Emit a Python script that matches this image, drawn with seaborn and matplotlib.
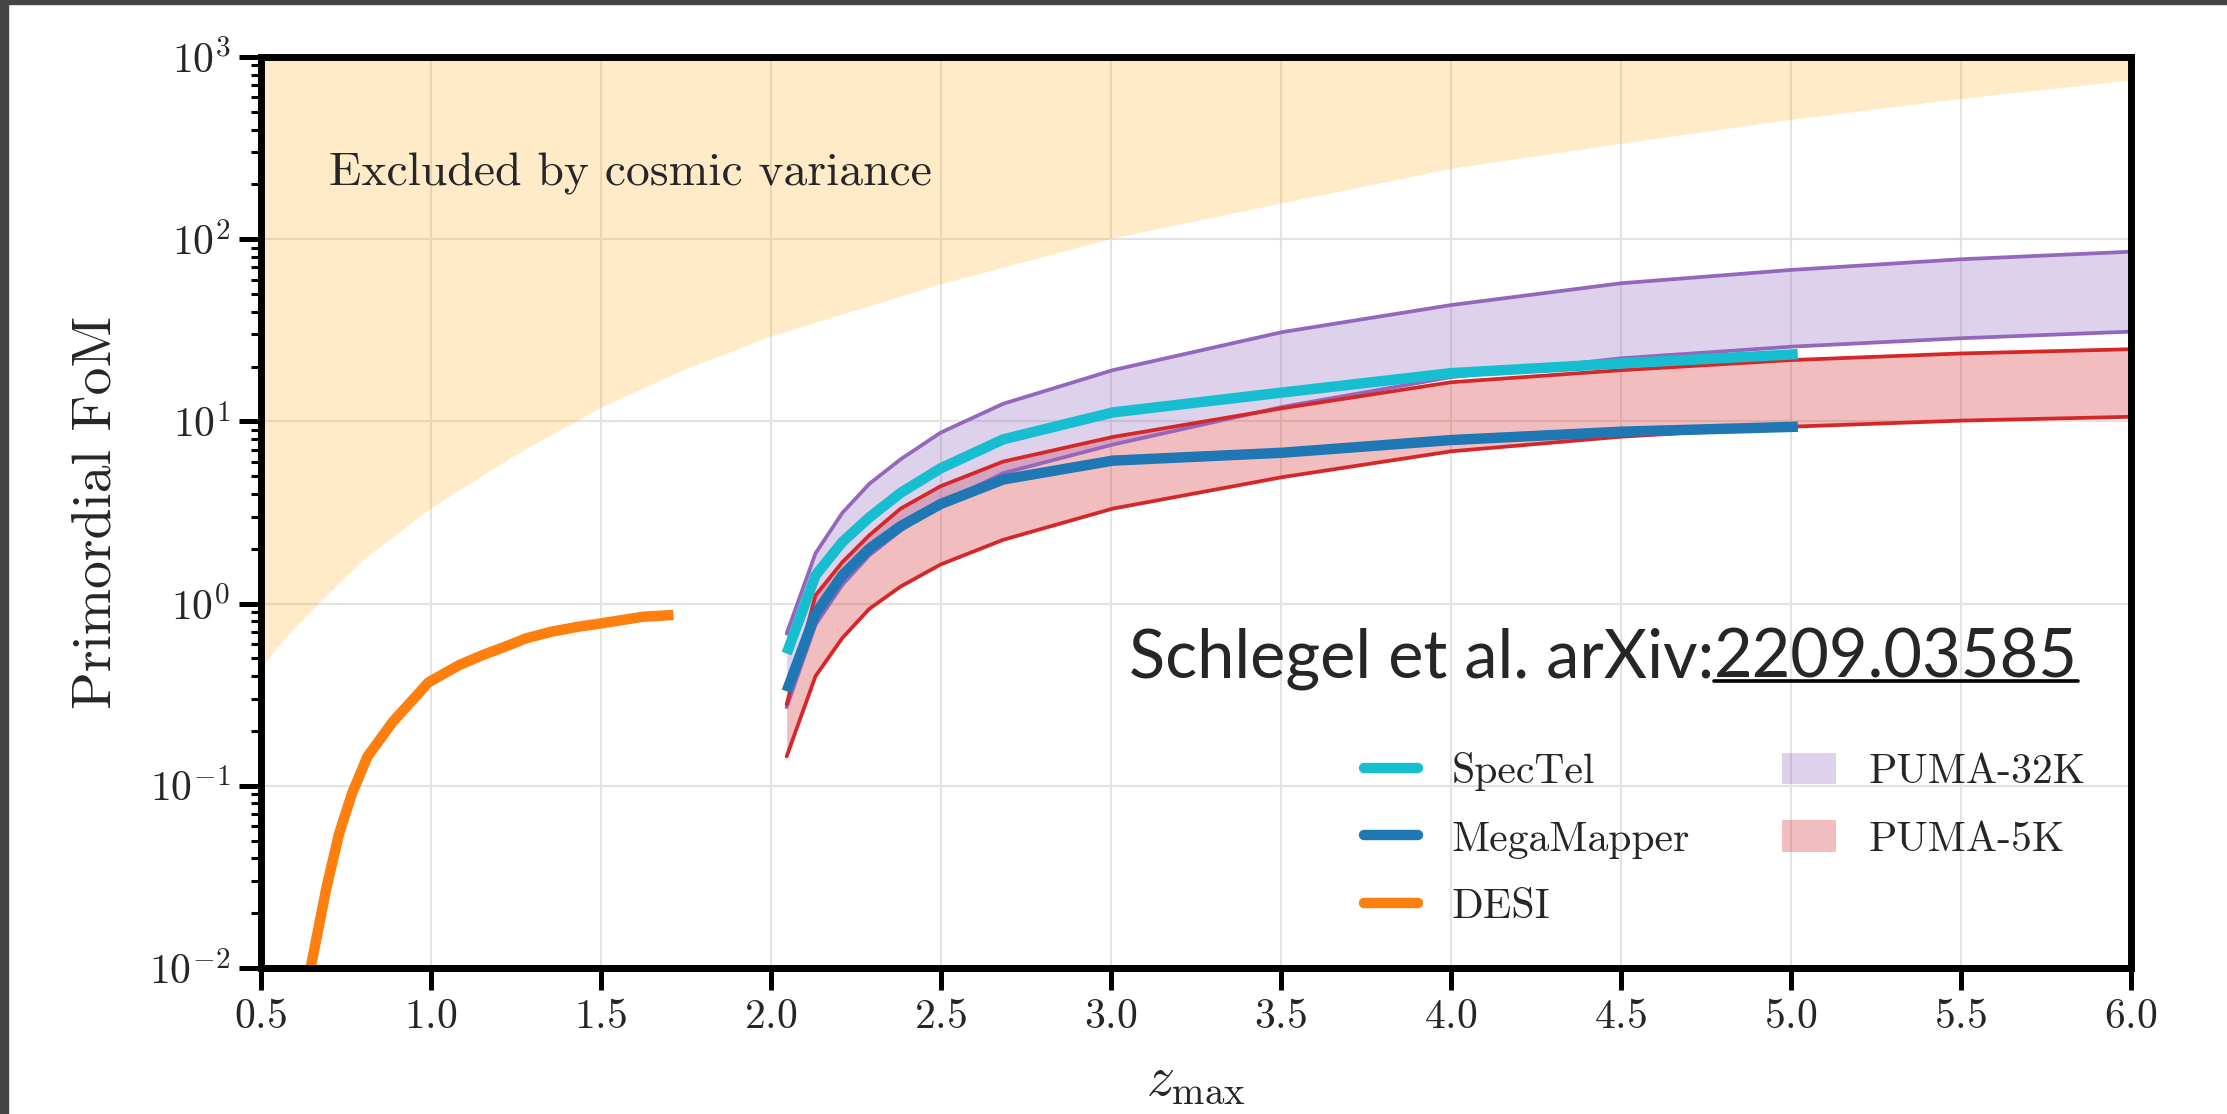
import numpy as np
import pandas as pd
import matplotlib
matplotlib.use("Agg")
import matplotlib.pyplot as plt
import seaborn as sns
from matplotlib.ticker import FixedLocator, FuncFormatter, LogLocator, NullFormatter
from matplotlib.patches import Rectangle
from matplotlib.lines import Line2D

# ---------------- data ----------------
z_cv = [0.5, 0.58, 0.67, 0.8, 1.0, 1.25, 1.5, 1.75, 2.0, 2.25, 2.5, 3.0, 3.5, 4.0, 4.5, 5.0, 5.5, 6.0]
fom_cv = [0.45, 0.68, 1.01, 1.75, 3.36, 6.6, 12.0, 19.5, 29.5, 41.0, 57.0, 101.0, 158.0, 245.0,
          336.0, 455.0, 593.0, 748.0]

z_desi = [0.645, 0.693, 0.730, 0.768, 0.813, 0.888, 0.993, 1.083, 1.15, 1.218, 1.28, 1.353,
          1.43, 1.503, 1.623, 1.713]
fom_desi = [0.0098, 0.0279, 0.0548, 0.091, 0.1445, 0.225, 0.37, 0.46, 0.52, 0.58, 0.645, 0.70,
            0.745, 0.78, 0.847, 0.866]

z_puma = [2.046, 2.131, 2.210, 2.289, 2.381, 2.499, 2.683, 3.005, 3.503, 4.0, 4.5, 5.0, 5.5, 6.0]
puma32k_hi = [0.685, 1.89, 3.15, 4.54, 6.19, 8.68, 12.5, 19.1, 30.9, 43.5, 57.3, 67.8, 77.6, 85.4]
puma32k_lo = [0.270, 0.767, 1.27, 1.84, 2.51, 3.52, 5.2, 7.46, 12.0, 17.5, 22.2, 25.7, 28.6, 31.1]
puma5k_hi = [0.28, 1.11, 1.69, 2.37, 3.32, 4.41, 6.02, 8.21, 11.8, 16.4, 19.1, 21.7, 23.6, 24.9]
puma5k_lo = [0.145, 0.40, 0.648, 0.935, 1.24, 1.64, 2.24, 3.32, 4.94, 6.85, 8.24, 9.35, 10.1, 10.6]

z_surv = [2.046, 2.131, 2.210, 2.289, 2.381, 2.499, 2.683, 3.005, 3.503, 4.0, 4.5, 5.02]
fom_spectel = [0.532, 1.43, 2.18, 2.97, 4.05, 5.53, 7.97, 11.2, 14.4, 18.4, 20.8, 23.4]
fom_megamapper = [0.33, 0.88, 1.43, 2.0, 2.66, 3.52, 4.80, 6.09, 6.73, 7.9, 8.78, 9.35]

x_ticks = [0.5, 1.0, 1.5, 2.0, 2.5, 3.0, 3.5, 4.0, 4.5, 5.0, 5.5, 6.0]
y_ticks = [1e-2, 1e-1, 1e0, 1e1, 1e2, 1e3]

labels = ["SpecTel", "MegaMapper", "DESI", "PUMA-32K", "PUMA-5K"]

# ---------------- style ----------------
sns.set_style("ticks")
plt.rcParams["font.family"] = ["cmr10", "DejaVu Serif"]
plt.rcParams["mathtext.fontset"] = "cm"
plt.rcParams["axes.formatter.use_mathtext"] = True

C_CYAN, C_BLUE, C_ORANGE = "#17becf", "#1f77b4", "#ff7f0e"
C_PURPLE, C_RED = "#9467bd", "#d62728"

W, H, DPI = 2227, 1114, 100
fig = plt.figure(figsize=(W / DPI, H / DPI), dpi=DPI)
fig.patch.set_facecolor("white")
L, R, T, B = 261, 2131, 57, 968
ax = fig.add_axes([L / W, 1 - B / H, (R - L) / W, (B - T) / H])

# dark frame strips at the left and top of the screenshot
fig.patches.append(Rectangle((0, 0), 8 / W, 1, transform=fig.transFigure,
                             color="#444444", zorder=-1))
fig.patches.append(Rectangle((0, 1 - 4 / H), 1, 4 / H, transform=fig.transFigure,
                             color="#444444", zorder=-1))

ax.set_yscale("log")
ax.set_xlim(0.5, 6.0)
ax.set_ylim(1e-2, 1e3)

# cosmic variance excluded region
ax.fill_between(z_cv, fom_cv, 1e4, color="orange", alpha=0.22, lw=0, zorder=1)

# PUMA bands
poly5 = ax.fill_between(z_puma, puma5k_lo, puma5k_hi, color=C_RED, alpha=0.3, lw=0,
                        zorder=2, label=labels[4])
poly32 = ax.fill_between(z_puma, puma32k_lo, puma32k_hi, color=C_PURPLE, alpha=0.3, lw=0,
                         zorder=2, label=labels[3])

thin = 2.7
for vals, col in [(puma32k_hi, C_PURPLE), (puma32k_lo, C_PURPLE),
                  (puma5k_hi, C_RED), (puma5k_lo, C_RED)]:
    df = pd.DataFrame({"z": z_puma, "fom": vals})
    sns.lineplot(data=df, x="z", y="fom", ax=ax, color=col, lw=thin,
                 estimator=None, zorder=3)

thick = 7.5
df_s = pd.DataFrame({"z": z_surv, "fom": fom_spectel})
sns.lineplot(data=df_s, x="z", y="fom", ax=ax, color=C_CYAN, lw=thick,
             estimator=None, zorder=4, solid_capstyle="butt")
df_m = pd.DataFrame({"z": z_surv, "fom": fom_megamapper})
sns.lineplot(data=df_m, x="z", y="fom", ax=ax, color=C_BLUE, lw=thick,
             estimator=None, zorder=4, solid_capstyle="butt")
df_d = pd.DataFrame({"z": z_desi, "fom": fom_desi})
sns.lineplot(data=df_d, x="z", y="fom", ax=ax, color=C_ORANGE, lw=thick,
             estimator=None, zorder=4, solid_capstyle="butt")

# ---------------- axes styling ----------------
ax.xaxis.set_major_locator(FixedLocator(x_ticks))
ax.xaxis.set_major_formatter(FuncFormatter(lambda v, p: r"$%.1f$" % v))
ax.yaxis.set_major_locator(FixedLocator(y_ticks))
ax.yaxis.set_major_formatter(FuncFormatter(lambda v, p: r"$10^{%d}$" % int(round(np.log10(v)))))
ax.yaxis.set_minor_locator(LogLocator(base=10, subs=np.arange(2, 10), numticks=20))
ax.yaxis.set_minor_formatter(NullFormatter())

ax.tick_params(axis="both", which="major", direction="out", length=16, width=3.6,
               labelsize=30, pad=6, color="black")
ax.tick_params(axis="y", which="minor", direction="out", length=7, width=2.2, color="black")
for sp in ax.spines.values():
    sp.set_linewidth(5)
    sp.set_color("black")
    sp.set_zorder(6)

ax.set_axisbelow(True)
ax.grid(True, which="major", color="#e3e3e3", lw=1.5, zorder=0)

ax.set_xlabel(r"$z_{\rm max}$", fontsize=40)
ax.xaxis.set_label_coords(0.5, -0.097)
ax.xaxis.label.set_va("top")
ax.set_ylabel("Primordial FoM", fontsize=40)
ax.yaxis.set_label_coords(-0.088, 0.5)
ax.yaxis.label.set_va("center")

ax.text((329 - L) / (R - L), (B - 185.5) / (B - T), "Excluded by cosmic variance",
        transform=ax.transAxes, fontsize=34.3, ha="left", va="baseline", zorder=5)

# legend
h_spec = Line2D([], [], color=C_CYAN, lw=thick)
h_mega = Line2D([], [], color=C_BLUE, lw=thick)
h_desi = Line2D([], [], color=C_ORANGE, lw=thick)
leg = ax.legend([h_spec, h_mega, h_desi, poly32, poly5], labels, ncol=2,
                loc="upper left", bbox_to_anchor=((1364 - L) / (R - L), (B - 752) / (B - T)),
                frameon=False, fontsize=30, borderpad=0, handlelength=1.3,
                handleheight=0.8, handletextpad=0.8, columnspacing=2.2, labelspacing=0.7,
                borderaxespad=0)
leg.set_zorder(7)

# citation annotation with underlined arXiv number
fig.canvas.draw()
renderer = fig.canvas.get_renderer()
x0_px, base_px, target_w = 1129, 677, 950
fs = 40
t1 = fig.text(x0_px / W, 1 - base_px / H, "Schlegel et al. arXiv:", fontsize=fs,
              family=["Lato", "DejaVu Sans"], ha="left", va="baseline", zorder=8)
t2 = fig.text(0, 1 - base_px / H, "2209.03585", fontsize=fs,
              family=["Lato", "DejaVu Sans"], ha="left", va="baseline", zorder=8)
w_tot = t1.get_window_extent(renderer).width + t2.get_window_extent(renderer).width
fs = fs * target_w / w_tot
t1.set_fontsize(fs)
t2.set_fontsize(fs)
bb1 = t1.get_window_extent(renderer)
t2.set_x(bb1.x1 / W)
bb2 = t2.get_window_extent(renderer)
uy = 1 - (base_px + 4) / H
fig.add_artist(Line2D([bb2.x0 / W, bb2.x1 / W], [uy, uy], transform=fig.transFigure,
                      color="black", lw=2.6, zorder=8))

fig.savefig("out.png", dpi=DPI, facecolor="white")
